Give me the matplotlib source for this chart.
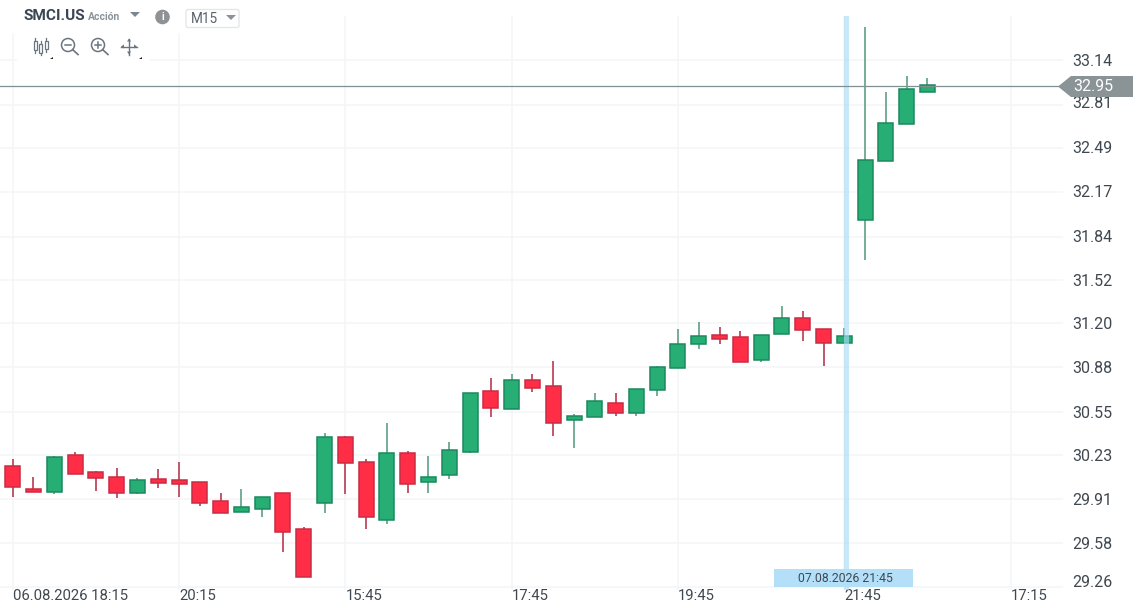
import matplotlib
matplotlib.use("Agg")
import matplotlib.pyplot as plt
from matplotlib.patches import Rectangle, Polygon, Circle, FancyBboxPatch
from matplotlib.transforms import ScaledTranslation

plt.rcParams['font.family'] = ['Roboto', 'DejaVu Sans']

W, H = 1141, 616

opens = [30.150, 29.983, 29.961, 30.233, 30.104, 30.067, 29.951, 30.057, 30.047, 30.030, 29.892,
         29.814, 29.834, 29.949, 29.689, 29.880, 30.362, 30.177, 29.753, 30.248, 30.035, 30.082,
         30.255, 30.703, 30.570, 30.784, 30.739, 30.487, 30.513, 30.616, 30.543, 30.710, 30.874,
         31.049, 31.115, 31.098, 30.931, 31.122, 31.242, 31.161, 31.058, 31.962, 32.396, 32.669, 32.907]
highs = [30.200, 30.069, 30.226, 30.251, 30.116, 30.133, 30.060, 30.126, 30.177, 30.030, 29.949,
         29.979, 29.920, 29.949, 29.701, 30.391, 30.371, 30.200, 30.465, 30.261, 30.224, 30.325,
         30.690, 30.796, 30.825, 30.825, 30.923, 30.531, 30.686, 30.686, 30.719, 30.887, 31.157,
         31.208, 31.172, 31.144, 31.115, 31.331, 31.292, 31.161, 31.164, 33.381, 32.902, 33.022, 33.005]
lows = [29.924, 29.961, 29.942, 30.091, 29.968, 29.915, 29.942, 29.986, 29.924, 29.858, 29.806,
        29.814, 29.777, 29.519, 29.335, 29.806, 29.942, 29.686, 29.721, 29.949, 29.949, 30.052,
        30.244, 30.513, 30.570, 30.697, 30.373, 30.280, 30.513, 30.521, 30.521, 30.668, 30.874,
        31.010, 31.046, 30.918, 30.918, 31.122, 31.073, 30.889, 31.058, 31.667, 32.396, 32.669, 32.907]
closes = [29.998, 29.961, 30.214, 30.091, 30.062, 29.951, 30.047, 30.025, 30.018, 29.880, 29.806,
          29.846, 29.920, 29.666, 29.335, 30.362, 30.175, 29.777, 30.248, 30.018, 30.067, 30.268,
          30.690, 30.580, 30.784, 30.725, 30.469, 30.518, 30.629, 30.543, 30.719, 30.877, 31.051,
          31.108, 31.085, 30.918, 31.115, 31.242, 31.150, 31.058, 31.105, 32.404, 32.674, 32.929, 32.956]

price_ticks = [33.14, 32.81, 32.49, 32.17, 31.84, 31.52, 31.20, 30.88, 30.55, 30.23, 29.91, 29.58, 29.26]
time_ticks = [0, 8, 16, 24, 32, 40, 48]
time_labels = ["06.08.2026 18:15", "20:15", "15:45", "17:45", "19:45", "21:45", "17:15"]
last_price = 32.947
last_label = "32.95"
cursor_index = 40.1
cursor_label = "07.08.2026 21:45"
symbol = "SMCI.US"
kind = "Acción"
period = "M15"

TXT = "#3f4850"
GRID = "#f3f5f7"
UP, UP_EDGE, UP_WICK = "#26ae75", "#1a8a5e", "#5f9f84"
DN, DN_EDGE, DN_WICK = "#ff2d46", "#c92c44", "#b83a52"

fig = plt.figure(figsize=(W / 100, H / 100), dpi=100, facecolor="white")

# plot area in pixels: x 0..1063, y 16..590
ax = fig.add_axes([0, 1 - 590 / H, 1063 / W, 574 / H], facecolor="white")
PX_PER_CANDLE = 20.79
X0 = 12.7
ax.set_xlim(-X0 / PX_PER_CANDLE, (1063 - X0) / PX_PER_CANDLE)
PRICE_AT_0 = 33.5818
PRICE_PER_PX = 0.007364
ax.set_ylim(PRICE_AT_0 - PRICE_PER_PX * 590, PRICE_AT_0 - PRICE_PER_PX * 16)

for s in ax.spines.values():
    s.set_visible(False)

ax.yaxis.tick_right()
ax.set_yticks(price_ticks)
ax.set_yticklabels([f"{p:.2f}" for p in price_ticks])
ax.set_xticks(time_ticks)
ax.set_xticklabels(time_labels)
ax.tick_params(axis="y", length=0, pad=6.5, labelsize=11.5, labelcolor=TXT)
ax.tick_params(axis="x", length=0, pad=-0.4, labelsize=10.75, labelcolor=TXT)
for lab in ax.get_xticklabels():
    lab.set_ha("left")
# the reference nudges some price labels upward, in pixels
label_nudge_px = {1: 2.5, 2: 1.5, 3: 1, 4: 1, 12: 6}
for idx, px in label_nudge_px.items():
    lab = ax.get_yticklabels()[idx]
    lab.set_transform(lab.get_transform() + ScaledTranslation(0, px / 100, fig.dpi_scale_trans))
ax.grid(True, color=GRID, lw=1.1, zorder=0)
ax.set_axisbelow(True)

for i, (o, h, l, c) in enumerate(zip(opens, highs, lows, closes)):
    up = c >= o
    ax.vlines(i, l, h, color=UP_WICK if up else DN_WICK, lw=1.2, zorder=2)
    ax.bar(i, abs(c - o), bottom=min(o, c), width=0.72,
           color=UP if up else DN, edgecolor=UP_EDGE if up else DN_EDGE, lw=1.1, zorder=3)

ax.axvline(cursor_index, color="#a8dcf7", alpha=0.65, lw=3.6, zorder=4)
ax.axhline(last_price, color="#7f9090", lw=0.9, zorder=5)

# chart chrome, in pixel coordinates
ov = fig.add_axes([0, 0, 1, 1], facecolor="none")
ov.set_xlim(0, W)
ov.set_ylim(H, 0)
ov.axis("off")

ov.add_patch(Rectangle((0, 0), 270, 33, fc="white", ec="none"))
ov.add_patch(Rectangle((17, 33), 133, 28, fc="white", ec="none"))

ov.text(24, 16.5, symbol, fontsize=11.1, fontweight="bold", color="#3a4654", va="center", ha="left")
ov.text(88, 17, kind, fontsize=7.5, fontweight="bold", color="#8a9299", va="center", ha="left")
ov.add_patch(Polygon([(130, 12), (140, 12), (135, 17)], fc="#7d868c", ec="none"))
ov.add_patch(Circle((162.5, 17), 7.3, fc="#8e9295", ec="none"))
ov.text(162.5, 17.3, "i", fontsize=7.5, fontweight="bold", color="white", va="center", ha="center")
ov.add_patch(FancyBboxPatch((186, 9.5), 53, 18, boxstyle="round,pad=0,rounding_size=2",
                            fc="white", ec="#e4e7ea", lw=1))
ov.text(191, 19, period, fontsize=9.8, color="#5a636b", va="center", ha="left")
ov.add_patch(Polygon([(226, 15), (236, 15), (231, 20)], fc="#8c9398", ec="none"))

ICON = "#6b7580"
# candle icon
for cx, y0, y1, b0, b1 in [(35, 38, 53, 41, 50), (40.5, 41, 55, 44, 53), (46, 38, 52, 41, 49)]:
    ov.plot([cx, cx], [y0, y1], color=ICON, lw=0.9)
    ov.add_patch(Rectangle((cx - 1.5, b0), 3, b1 - b0, fc="white", ec=ICON, lw=0.9, zorder=3))
# zoom out / zoom in
for cx, plus in [(68, False), (98, True)]:
    ov.add_patch(Circle((cx, 45), 6.5, fc="none", ec=ICON, lw=1.1))
    ov.plot([cx + 4.6, cx + 10], [49.6, 54.5], color=ICON, lw=1.2)
    ov.plot([cx - 3, cx + 3], [45, 45], color=ICON, lw=1.1)
    if plus:
        ov.plot([cx, cx], [42, 48], color=ICON, lw=1.1)
# move icon
ov.plot([121, 137], [46.5, 46.5], color=ICON, lw=1.0)
ov.plot([129, 129], [38.5, 54.5], color=ICON, lw=1.0)
for pts in [[(121, 46.5), (124, 44.5), (124, 48.5)], [(137, 46.5), (134, 44.5), (134, 48.5)],
            [(129, 38.5), (127, 41.5), (131, 41.5)], [(129, 54.5), (127, 51.5), (131, 51.5)]]:
    ov.add_patch(Polygon(pts, fc=ICON, ec="none"))
# corner marks
for cx in [52.5, 141.5]:
    ov.add_patch(Polygon([(cx, 56.5), (cx, 59), (cx - 2.5, 59)], fc="#222222", ec="none"))

# last-price tag
ov.add_patch(Polygon([(1058, 86.5), (1071, 76), (1133, 76), (1133, 97), (1071, 97)],
                     fc="#8a9395", ec="none"))
ov.text(1073, 86.5, last_label, fontsize=11.5, color="white", va="center", ha="left")

# cursor time label
ov.add_patch(Rectangle((774, 569), 139, 18, fc="#b3e0f8", ec="none"))
ov.text(845, 579, cursor_label, fontsize=8.8, color=TXT, va="center", ha="center")

fig.savefig("out.png", dpi=100, facecolor="white")
